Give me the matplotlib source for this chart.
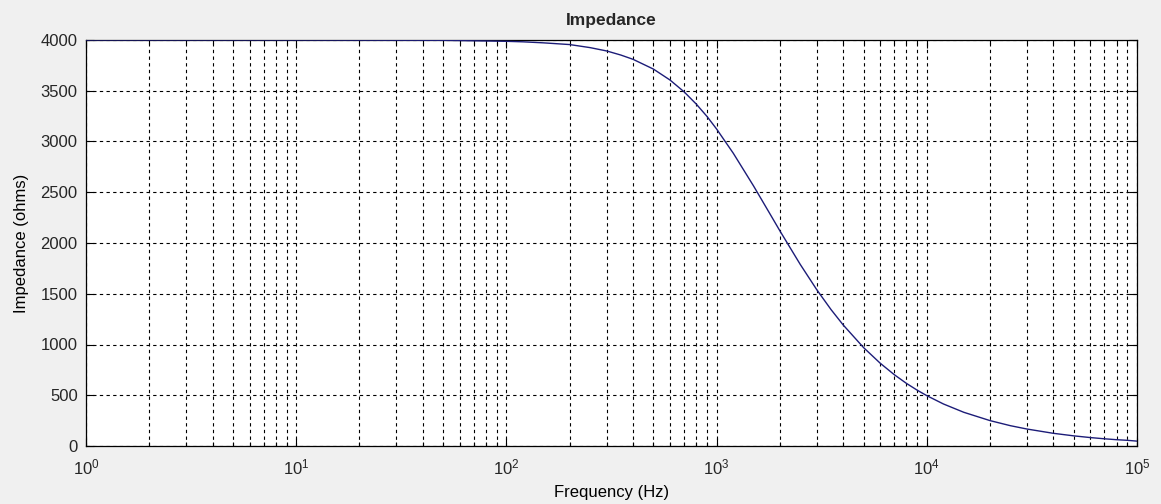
import matplotlib.pyplot as plt
from matplotlib.ticker import LogLocator, MultipleLocator, NullFormatter

# valores
freq_hz = [1, 10, 50, 100, 120, 150, 200, 250, 300, 350, 400, 500, 600, 700,
           800, 900, 1000, 1200, 1500, 1800, 2000, 2500, 3000, 3500, 4000,
           5000, 6000, 7000, 8000, 9000, 10000, 12000, 15000, 20000, 25000,
           30000, 40000, 50000, 60000, 70000, 80000, 90000, 100000]
impedance_ohms = [4000, 4000, 3997, 3987, 3982, 3972, 3955, 3925, 3892, 3852,
                  3810, 3714, 3606, 3490, 3369, 3247, 3123, 2885, 2561, 2282,
                  2120, 1789, 1538, 1345, 1193, 970, 816, 703, 617, 550, 496,
                  414, 332, 250, 200, 167, 125, 100, 83, 71, 62, 56, 48]

plt.rcParams['font.family'] = ['Liberation Sans', 'DejaVu Sans']
plt.rcParams['mathtext.fontset'] = 'custom'
plt.rcParams['mathtext.rm'] = 'Liberation Sans'
plt.rcParams['mathtext.it'] = 'Liberation Sans'
plt.rcParams['font.size'] = 12
plt.rcParams['text.color'] = '#262626'
plt.rcParams['xtick.labelcolor'] = '#262626'
plt.rcParams['ytick.labelcolor'] = '#262626'

fig = plt.figure(figsize=(11.61, 5.04), dpi=100, facecolor='#f0f0f0')
ax = fig.add_axes([86 / 1161, 58 / 504, 1051 / 1161, 406 / 504])

ax.semilogx(freq_hz, impedance_ohms, color='#1c1c78', linewidth=1.0, zorder=3)

ax.set_xlim(1, 1e5)
ax.set_ylim(0, 4000)
ax.xaxis.set_major_locator(LogLocator(base=10, numticks=10))
ax.xaxis.set_minor_locator(LogLocator(base=10, subs=range(2, 10), numticks=20))
ax.xaxis.set_minor_formatter(NullFormatter())
ax.yaxis.set_major_locator(MultipleLocator(500))

grid_ls = (0, (3, 3))
ax.grid(True, which='major', axis='both', color='black', linestyle=grid_ls, linewidth=0.8)
ax.grid(True, which='minor', axis='x', color='black', linestyle=grid_ls, linewidth=0.8)

ax.tick_params(which='both', direction='in', top=True, right=True, labelsize=12)
ax.tick_params(axis='x', pad=8)
ax.tick_params(axis='y', pad=6)
ax.tick_params(which='major', length=6, width=0.8)
ax.tick_params(which='minor', length=3, width=0.8)
for s in ax.spines.values():
    s.set_linewidth(0.9)

ax.set_title('Impedance', fontsize=12.5, fontweight='bold', pad=11)
ax.set_xlabel('Frequency (Hz)', fontsize=12, labelpad=6)
ax.set_ylabel('Impedance (ohms)', fontsize=12, labelpad=8)

fig.savefig('out.png', dpi=100, facecolor=fig.get_facecolor())
